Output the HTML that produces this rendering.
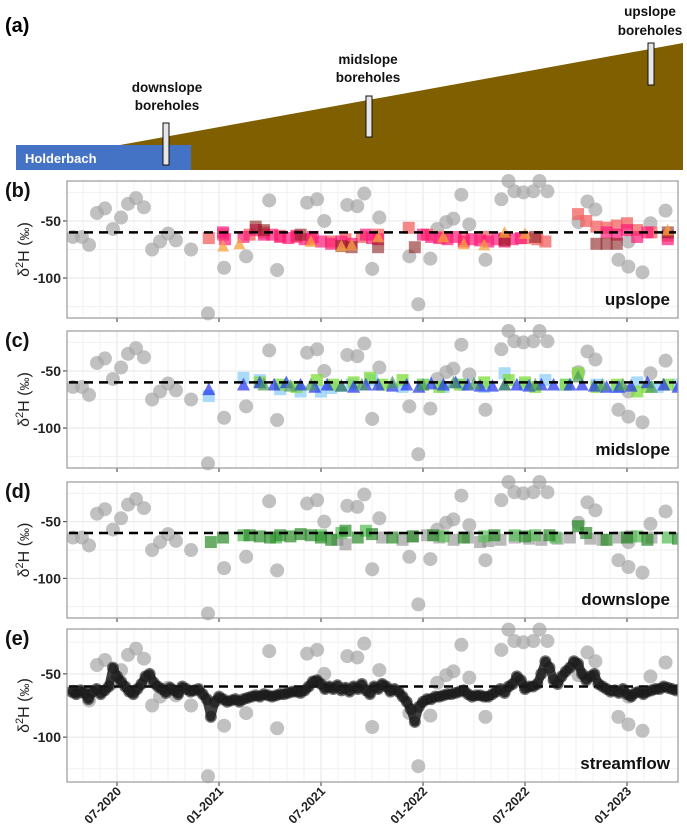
<!DOCTYPE html>
<html><head><meta charset="utf-8">
<style>
html,body{margin:0;padding:0;background:#fff;}
svg{display:block;font-family:"Liberation Sans",sans-serif;}
</style></head>
<body>
<svg id="fig" width="687" height="837" viewBox="0 0 687 837">
  <g>
    <text x="5" y="32" font-size="20" font-weight="bold">(a)</text>
    <polygon points="120,145 683,43 683,170 120,170" fill="#7f5f00"/>
    <rect x="16" y="145" width="175" height="25" fill="#4472c4"/>
    <text x="25" y="163" font-size="13" font-weight="bold" fill="#fff">Holderbach</text>
    <rect x="163" y="123" width="6" height="42" fill="#e6e6e6" stroke="#111" stroke-width="1"/>
    <rect x="366" y="96" width="6" height="41" fill="#e6e6e6" stroke="#111" stroke-width="1"/>
    <rect x="648" y="43" width="6" height="42" fill="#e6e6e6" stroke="#111" stroke-width="1"/>
    <g font-size="13.5" font-weight="bold" text-anchor="middle" fill="#111">
      <text x="167" y="92">downslope</text>
      <text x="167" y="110">boreholes</text>
      <text x="368" y="64">midslope</text>
      <text x="368" y="82">boreholes</text>
      <text x="650" y="16">upslope</text>
      <text x="650" y="35">boreholes</text>
    </g>
  </g>
  <defs><clipPath id="plotclip"><rect x="67" y="0" width="611" height="837"/></clipPath></defs>
</svg>
<script>
// ---- data (decimal year, δ2H ‰) ----
const precipYears = [2020.284,2020.328,2020.363,2020.402,2020.441,2020.480,2020.520,2020.554,2020.593,2020.632,2020.672,2020.711,2020.750,2020.789,2020.863,2020.946,2021.025,2021.133,2021.246,2021.285,2021.432,2021.481,2021.516,2021.629,2021.678,2021.712,2021.751,2021.786,2021.933,2021.977,2022.036,2022.070,2022.114,2022.149,2022.188,2022.227,2022.306,2022.384,2022.419,2022.448,2022.492,2022.541,2022.571,2022.610,2022.762,2022.806,2022.845,2022.958,2023.007,2023.007,2023.076,2023.115,2023.189];
const precipValues = [-64,-64,-71,-43,-39,-57,-47,-35,-30,-38,-75,-68,-61,-67,-75,-131,-91,-81,-32,-93,-34,-31,-50,-36,-37,-26,-92,-47,-81,-123,-83,-57,-51,-48,-27,-53,-84,-31,-15,-24,-25,-24,-15,-24,-51,-33,-40,-84,-90,-68,-95,-52,-41];

const upSalmon = [[2020.95,-65],[2021.02,-62],[2021.15,-62],[2021.22,-60],[2021.3,-63],[2021.38,-64],[2021.45,-66],[2021.55,-68],[2021.62,-66],[2021.7,-64],[2021.78,-62],[2021.93,-56],[2022.02,-62],[2022.1,-64],[2022.2,-66],[2022.3,-64],[2022.4,-65],[2022.5,-65],[2022.56,-66],[2022.6,-68],[2022.76,-44],[2022.8,-50],[2022.85,-55],[2022.9,-56],[2022.95,-54],[2023.0,-52],[2023.05,-58],[2023.12,-60],[2023.2,-63]];
const upPink = [[2021.02,-60],[2021.03,-66],[2021.12,-64],[2021.18,-58],[2021.22,-62],[2021.26,-62],[2021.3,-64],[2021.34,-65],[2021.38,-63],[2021.42,-66],[2021.46,-64],[2021.5,-68],[2021.55,-70],[2021.6,-68],[2021.65,-70],[2021.72,-62],[2021.75,-65],[2021.78,-66],[2022.0,-62],[2022.04,-64],[2022.08,-65],[2022.12,-66],[2022.16,-64],[2022.2,-68],[2022.24,-66],[2022.28,-67],[2022.32,-68],[2022.36,-66],[2022.4,-68],[2022.44,-66],[2022.48,-65],[2022.9,-60],[2022.95,-62],[2023.0,-58],[2023.05,-64],[2023.1,-60],[2023.2,-66]];
const upDark = [[2021.18,-55],[2021.22,-58],[2021.4,-62],[2021.6,-72],[2021.65,-73],[2021.78,-73],[2021.96,-73],[2022.4,-67],[2022.55,-64],[2022.85,-70],[2022.9,-70],[2022.95,-70],[2023.2,-60]];
const upOrangeTri = [[2021.02,-72],[2021.1,-70],[2021.45,-68],[2021.6,-72],[2021.65,-71],[2021.78,-64],[2022.1,-64],[2022.2,-70],[2022.3,-71],[2022.4,-60],[2022.5,-61],[2023.2,-58]];

const midBlueTri = [[2020.95,-66],[2021.12,-62],[2021.2,-60],[2021.27,-62],[2021.33,-60],[2021.4,-62],[2021.47,-64],[2021.53,-62],[2021.6,-63],[2021.66,-64],[2021.72,-62],[2021.78,-62],[2021.85,-63],[2021.92,-62],[2021.98,-64],[2022.04,-61],[2022.1,-62],[2022.16,-60],[2022.22,-62],[2022.28,-63],[2022.34,-63],[2022.4,-62],[2022.46,-62],[2022.52,-63],[2022.58,-62],[2022.64,-62],[2022.72,-62],[2022.78,-62],[2022.84,-63],[2022.9,-64],[2022.96,-64],[2023.02,-63],[2023.1,-60],[2023.18,-62],[2023.25,-64]];
const midLightBlueSq = [[2020.95,-72],[2021.12,-56],[2021.2,-58],[2021.3,-66],[2021.4,-68],[2021.5,-68],[2021.55,-65],[2021.65,-62],[2021.75,-58],[2021.9,-64],[2022.0,-62],[2022.1,-64],[2022.2,-62],[2022.3,-64],[2022.4,-52],[2022.5,-62],[2022.6,-58],[2022.7,-62],[2022.85,-62],[2022.95,-64],[2023.05,-60],[2023.15,-64],[2023.25,-62]];
const midGreenSq = [[2021.2,-60],[2021.3,-62],[2021.38,-64],[2021.48,-58],[2021.56,-62],[2021.66,-60],[2021.74,-56],[2021.8,-62],[2021.9,-58],[2022.0,-62],[2022.08,-64],[2022.18,-62],[2022.3,-60],[2022.42,-58],[2022.5,-60],[2022.55,-64],[2022.7,-62],[2022.76,-52],[2022.85,-64],[2022.95,-62],[2023.05,-68],[2023.1,-64],[2023.2,-62],[2023.28,-60]];
const midGreenTri = [[2021.22,-62],[2021.35,-63],[2021.45,-62],[2021.6,-63],[2021.7,-62],[2021.85,-60],[2022.0,-62],[2022.15,-60],[2022.25,-61],[2022.4,-62],[2022.55,-62],[2022.76,-55],[2022.88,-62],[2022.98,-62],[2023.12,-64]];

const downGreenDark = [[2020.96,-68],[2021.02,-64],[2021.15,-62],[2021.2,-63],[2021.25,-64],[2021.3,-62],[2021.35,-63],[2021.4,-61],[2021.45,-62],[2021.5,-64],[2021.55,-66],[2021.62,-58],[2021.68,-64],[2021.75,-61],[2021.85,-64],[2021.95,-63],[2022.05,-62],[2022.2,-64],[2022.35,-62],[2022.5,-63],[2022.62,-62],[2022.76,-54],[2022.8,-60],[2022.9,-66],[2023.0,-64],[2023.1,-66],[2023.25,-65]];
const downLightGreen = [[2021.12,-62],[2021.28,-64],[2021.5,-62],[2021.6,-60],[2021.72,-58],[2022.1,-63],[2022.3,-63],[2022.45,-62],[2022.55,-62],[2022.65,-64],[2023.05,-63],[2023.2,-64]];
const downGray = [[2021.58,-66],[2021.62,-70],[2021.8,-64],[2021.9,-66],[2021.95,-63],[2022.02,-62],[2022.08,-64],[2022.15,-66],[2022.22,-64],[2022.28,-68],[2022.32,-67],[2022.38,-66],[2022.45,-64],[2022.52,-65],[2022.58,-66],[2022.66,-65],[2022.72,-64],[2022.82,-65],[2022.88,-66],[2022.96,-64],[2023.02,-63],[2023.12,-64]];

const streamStart = 2020.28;
const streamStep = 0.02;
const streamValues = [-64,-66,-63,-65,-70,-64,-62,-66,-63,-60,
-45,-52,-56,-60,-64,-66,-62,-58,-52,-50,
-57,-60,-62,-65,-61,-63,-66,-60,-62,-64,
-63,-62,-66,-70,-84,-72,-68,-70,-72,-71,
-70,-72,-70,-69,-68,-67,-68,-66,-67,-68,
-67,-66,-66,-65,-64,-64,-65,-63,-60,-56,
-55,-58,-62,-60,-62,-59,-63,-61,-64,-60,
-62,-58,-63,-66,-60,-62,-58,-60,-64,-62,
-64,-68,-72,-78,-88,-76,-72,-70,-70,-68,
-68,-67,-66,-66,-65,-64,-63,-66,-68,-67,
-67,-68,-68,-66,-64,-62,-65,-60,-58,-52,
-55,-62,-60,-60,-58,-50,-40,-45,-55,-58,
-52,-48,-45,-40,-42,-50,-55,-52,-50,-58,
-60,-62,-64,-63,-65,-62,-66,-68,-65,-64,
-66,-64,-63,-62,-62,-60,-61,-62,-63,-62,
-61,-60];

const xTickYears = [2020.5,2021.0,2021.5,2022.0,2022.5,2023.0];
const xTickLabels = ["07-2020","01-2021","07-2021","01-2022","07-2022","01-2023"];
const yTickValues = [-50,-100];
const refLine = -60;

// ---- layout ----
const NS = "http://www.w3.org/2000/svg";
const svg = document.getElementById('fig');
const X0 = 67, X1 = 678;
function xScale(yr){ return 117 + (yr - 2020.5) * 204; }
const panels = [
  {id:'b', top:181, bottom:318, dom:[-135,-15], name:'upslope'},
  {id:'c', top:331, bottom:468, dom:[-135,-15], name:'midslope'},
  {id:'d', top:482, bottom:618, dom:[-135,-15], name:'downslope'},
  {id:'e', top:629, bottom:782, dom:[-135.5,-14.5], name:'streamflow'}
];
function mk(tag, attrs, parent){
  const e = document.createElementNS(NS, tag);
  for (const k in attrs) e.setAttribute(k, attrs[k]);
  (parent||svg).appendChild(e);
  return e;
}
function yScaleFor(p){ return v => p.top + (p.dom[1] - v) / (p.dom[1] - p.dom[0]) * (p.bottom - p.top); }

function drawCircle(g, cx, cy, r, fill, op, name){
  const c = mk('circle', {cx:cx, cy:cy, r:r, fill:fill, 'fill-opacity':op}, g);
  
  
}
function drawSquare(g, cx, cy, s, fill, op, name){
  const r = mk('rect', {x:cx-s/2, y:cy-s/2, width:s, height:s, fill:fill, 'fill-opacity':op}, g);
  
  
}
function drawTri(g, cx, cy, s, fill, op, name){
  const h = s*0.9;
  const t = mk('polygon', {points:`${cx},${cy-h/2-1} ${cx-s/2},${cy+h/2} ${cx+s/2},${cy+h/2}`, fill:fill, 'fill-opacity':op}, g);
  
  
}

panels.forEach(p => {
  const ys = yScaleFor(p);
  const g = mk('g', {});
  
  
  const gc = mk('g', {'clip-path':'url(#plotclip)'}, g);
  
  
  // grid
  for (let m = 0; m < 40; m++){
    const yr = 2020.25 + m/12;
    const x = xScale(yr);
    if (x <= X0 || x >= X1) continue;
    mk('line', {x1:x, x2:x, y1:p.top, y2:p.bottom, stroke:'#f2f2f2', 'stroke-width':1}, gc);
  }
  xTickYears.forEach(yr => {
    const x = xScale(yr);
    mk('line', {x1:x, x2:x, y1:p.top, y2:p.bottom, stroke:'#e6e6e6', 'stroke-width':1}, gc);
  });
  [-25,-75,-125].forEach(v => mk('line', {x1:X0, x2:X1, y1:ys(v), y2:ys(v), stroke:'#f0f0f0', 'stroke-width':1}, gc));
  yTickValues.forEach(v => {
    mk('line', {x1:X0, x2:X1, y1:ys(v), y2:ys(v), stroke:'#e6e6e6', 'stroke-width':1}, gc);
    mk('line', {x1:X0-4, x2:X0, y1:ys(v), y2:ys(v), stroke:'#333', 'stroke-width':1}, g);
    const t = mk('text', {x:X0-6, y:ys(v)+5, 'font-size':14, 'font-weight':'bold', 'text-anchor':'end', fill:'#222'}, g);
    t.textContent = String(v);
    
    
  });
  xTickYears.forEach(yr => mk('line', {x1:xScale(yr), x2:xScale(yr), y1:p.bottom, y2:p.bottom+4, stroke:'#333', 'stroke-width':1}, g));
  // precipitation (grey)
  precipYears.forEach((yr, i) => drawCircle(gc, xScale(yr), ys(precipValues[i]), 7, '#a6a6a6', 0.7, 'precip-point'));
  // series
  if (p.id === 'b'){
    upSalmon.forEach(d => drawSquare(gc, xScale(d[0]), ys(d[1]), 12, '#f46060', 0.75, 'upslope-point'));
    upPink.forEach(d => drawSquare(gc, xScale(d[0]), ys(d[1]), 12, '#ff1a78', 0.7, 'upslope-point'));
    upDark.forEach(d => drawSquare(gc, xScale(d[0]), ys(d[1]), 12, '#8b1f1f', 0.6, 'upslope-point'));
    upOrangeTri.forEach(d => drawTri(gc, xScale(d[0]), ys(d[1]), 12, '#f7a23c', 0.75, 'upslope-point'));
  } else if (p.id === 'c'){
    midLightBlueSq.forEach(d => drawSquare(gc, xScale(d[0]), ys(d[1]), 12, '#8fcff8', 0.75, 'midslope-point'));
    midGreenSq.forEach(d => drawSquare(gc, xScale(d[0]), ys(d[1]), 12, '#7ddc3a', 0.75, 'midslope-point'));
    midBlueTri.forEach(d => drawTri(gc, xScale(d[0]), ys(d[1]), 13, '#2030f0', 0.7, 'midslope-point'));
    midGreenTri.forEach(d => drawTri(gc, xScale(d[0]), ys(d[1]), 13, '#4a9a58', 0.7, 'midslope-point'));
  } else if (p.id === 'd'){
    downGray.forEach(d => drawSquare(gc, xScale(d[0]), ys(d[1]), 12, '#8c8c8c', 0.6, 'downslope-point'));
    downLightGreen.forEach(d => drawSquare(gc, xScale(d[0]), ys(d[1]), 12, '#5cbf5c', 0.75, 'downslope-point'));
    downGreenDark.forEach(d => drawSquare(gc, xScale(d[0]), ys(d[1]), 12, '#2a8a2a', 0.7, 'downslope-point'));
  }
  // dashed reference
  const dl = mk('line', {x1:X0+2, x2:X1-2, y1:ys(refLine), y2:ys(refLine), stroke:'#000', 'stroke-width':2.5, 'stroke-dasharray':'9,6'}, gc);
  
  
  if (p.id === 'e'){
    const pts = streamValues.map((v, i) => xScale(streamStart + i*streamStep) + ',' + ys(v)).join(' ');
    const band = mk('polyline', {points:pts, fill:'none', stroke:'#111', 'stroke-opacity':0.8, 'stroke-width':9, 'stroke-linejoin':'round', 'stroke-linecap':'round'}, gc);
    
    
    streamValues.forEach((v, i) => {
      const yr = streamStart + i*streamStep;
      drawCircle(gc, xScale(yr), ys(v), 6, '#1a1a1a', 0.6, 'streamflow-point');
    });
  }
  // frame
  const fr = mk('rect', {x:X0, y:p.top, width:X1-X0, height:p.bottom-p.top, fill:'none', stroke:'#999', 'stroke-width':1.2}, g);
  
  
  // labels
  const pl = mk('text', {x:5, y:p.top+16, 'font-size':20, 'font-weight':'bold', fill:'#111'}, g);
  pl.textContent = '(' + p.id + ')';
  
  
  const cy = (ys(-50)+ys(-100))/2;
  const at = mk('text', {x:0, y:0, 'font-size':16, fill:'#222', 'text-anchor':'middle', transform:`translate(29,${cy}) rotate(-90)`}, g);
  at.innerHTML = 'δ<tspan font-size="11" dy="-6">2</tspan><tspan dy="6">H (</tspan><tspan font-size="13">‰</tspan>)';
  
  
  const nl = mk('text', {x:670, y:p.bottom-13, 'font-size':17, 'font-weight':'bold', 'text-anchor':'end', fill:'#111'}, g);
  nl.textContent = p.name;
  
  
});

// x tick labels
xTickYears.forEach((yr, i) => {
  const x = xScale(yr);
  const t = mk('text', {x:0, y:0, 'font-size':12.5, 'font-weight':'bold', 'text-anchor':'end', fill:'#222', transform:`translate(${x+5},${792}) rotate(-45)`});
  t.textContent = xTickLabels[i];
  
  
});
</script>
</body></html>
